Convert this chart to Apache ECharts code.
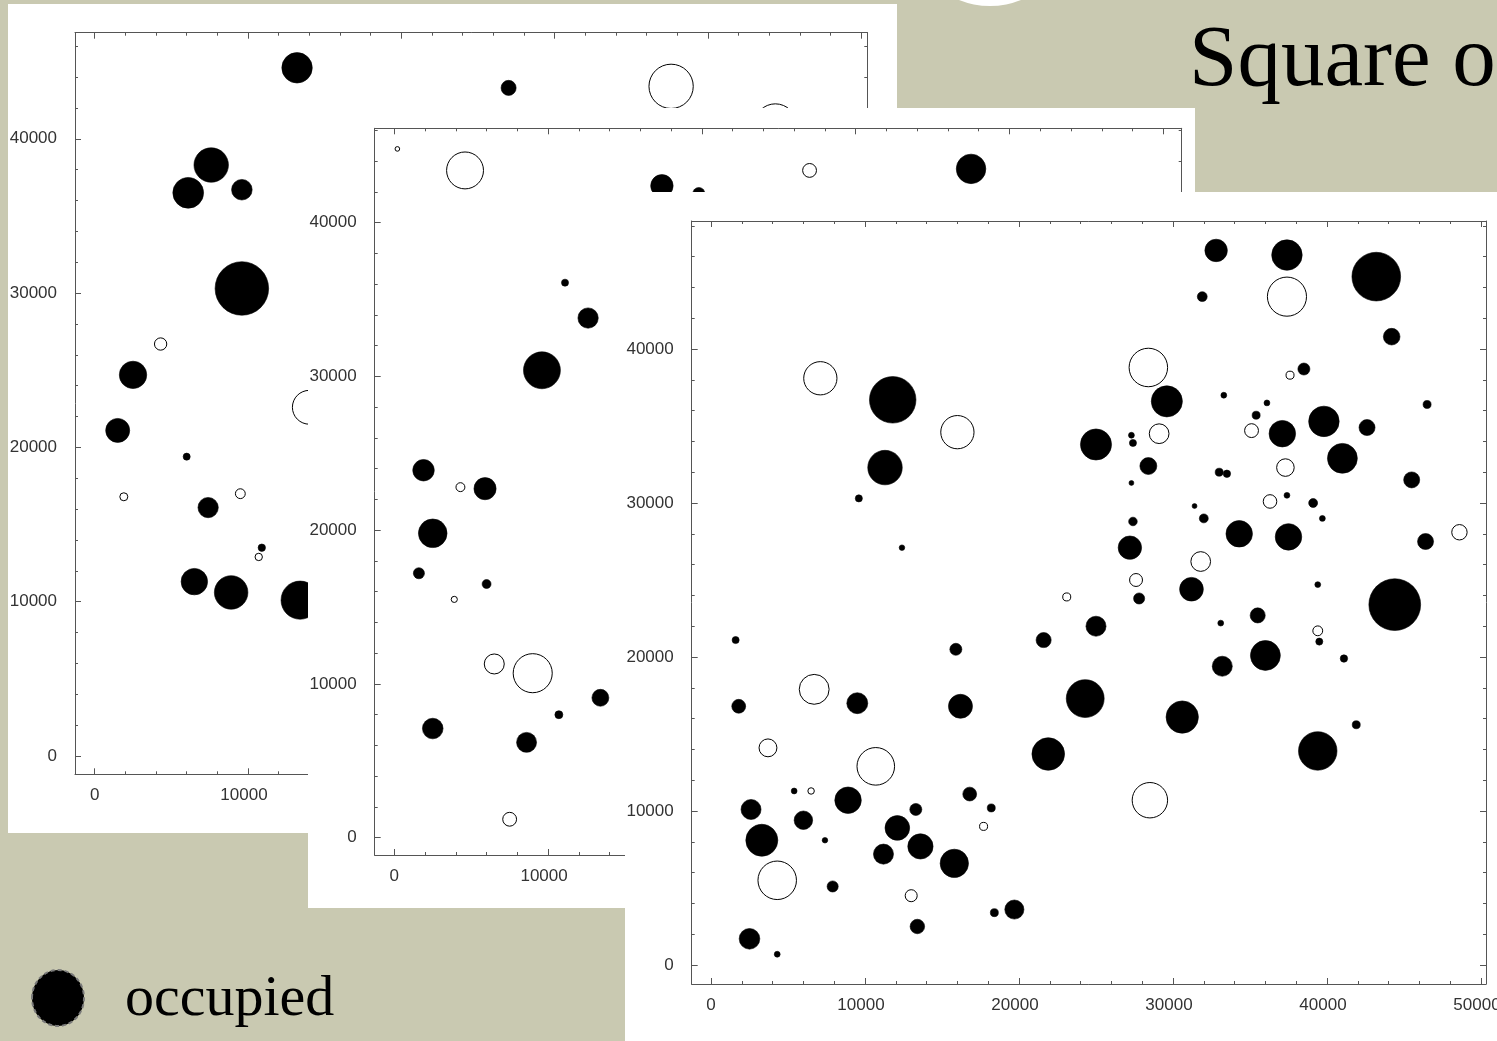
<!DOCTYPE html>
<html>
<head>
<meta charset="utf-8">
<title>Square of patches</title>
<script src="https://cdn.jsdelivr.net/npm/echarts@6/dist/echarts.min.js"></script>
<style>
  html, body { margin: 0; padding: 0; background: #c9c9b1; }
  #chart { width: 1497px; height: 1041px; }
</style>
</head>
<body>
<div id="chart"></div>
<script>
// Habitat patches: [x, y, radius] in map units (metres).
// Three surveys of the same square; occupied patches are filled, empty ones outlined.

const surveyAOccupied = [
  [13200, 44600, 990], [7600, 38300, 1120], [6100, 36500, 1000], [9600, 36700, 670],
  [9600, 30300, 1740], [2500, 24700, 890], [1500, 21100, 780], [6000, 19400, 230],
  [7400, 16100, 660], [10900, 13500, 240], [6500, 11300, 860], [8900, 10600, 1090],
  [13400, 10100, 1240], [27000, 43300, 490]
];
const surveyAEmpty = [
  [4300, 26700, 400], [14000, 22600, 1100], [1900, 16800, 260], [9500, 17000, 320],
  [10700, 12900, 240], [37600, 43400, 1440], [44400, 40900, 1370]
];

const surveyBOccupied = [
  [17400, 42400, 730], [19800, 41900, 390], [11100, 36100, 230], [12600, 33800, 660],
  [9600, 30400, 1200], [1900, 23900, 700], [5900, 22700, 720], [2500, 19800, 930],
  [1600, 17200, 360], [6000, 16500, 290], [13400, 9100, 550], [10700, 8000, 260],
  [2500, 7100, 670], [8600, 6200, 650], [37500, 43500, 960]
];
const surveyBEmpty = [
  [200, 44800, 150], [4600, 43400, 1200], [4300, 22800, 290], [3900, 15500, 200],
  [6500, 11300, 650], [9000, 10700, 1270], [7500, 1200, 450], [27000, 43400, 450]
];

const surveyCOccupied = [
  [11800, 36700, 1510], [11300, 32300, 1120], [9600, 30300, 230], [12400, 27100, 180],
  [25000, 33800, 1010], [25000, 22000, 650], [32800, 46400, 730], [37400, 46100, 990],
  [43200, 44700, 1580], [31900, 43400, 320], [44200, 40800, 540], [38500, 38700, 390],
  [29600, 36600, 1010], [33300, 37000, 190], [36100, 36500, 190], [46500, 36400, 260],
  [35400, 35700, 260], [39800, 35300, 990], [42600, 34900, 520], [37100, 34500, 860],
  [27300, 34400, 190], [27400, 33900, 230], [41000, 32900, 970], [28400, 32400, 550],
  [33000, 32000, 260], [33500, 31900, 240], [45500, 31500, 520], [27300, 31300, 160],
  [37400, 30500, 190], [39100, 30000, 290], [31400, 29800, 160], [32000, 29000, 290],
  [39700, 29000, 190], [27400, 28800, 280], [34300, 28000, 860], [37500, 27800, 860],
  [46400, 27500, 520], [27200, 27100, 760], [31200, 24400, 770], [27800, 23800, 360],
  [39400, 24700, 190], [44400, 23400, 1680], [35500, 22700, 490], [33100, 22200, 190],
  [39500, 21000, 230], [36000, 20100, 970], [33200, 19400, 650], [41100, 19900, 240],
  [24300, 17300, 1230], [30600, 16100, 1050], [41900, 15600, 260], [39400, 13900, 1250],
  [1600, 21100, 230], [15900, 20500, 390], [21600, 21100, 490], [9500, 17000, 680],
  [1800, 16800, 450], [16200, 16800, 780], [21900, 13700, 1060], [5400, 11300, 190],
  [8900, 10700, 860], [16800, 11100, 450], [18200, 10200, 260], [2600, 10100, 650],
  [6000, 9400, 600], [7400, 8100, 180], [13300, 10100, 390], [3300, 8100, 1040],
  [12100, 8900, 800], [13600, 7700, 820], [11200, 7200, 650], [15800, 6600, 920],
  [7900, 5100, 360], [18400, 3400, 260], [19700, 3600, 620], [13400, 2500, 470],
  [2500, 1700, 670], [4300, 700, 190]
];
const surveyCEmpty = [
  [7100, 38100, 1080], [16000, 34600, 1080], [23100, 23900, 260], [37400, 43400, 1270],
  [28400, 38800, 1250], [37600, 38300, 260], [29100, 34500, 640], [35100, 34700, 450],
  [37300, 32300, 570], [36300, 30100, 440], [48600, 28100, 500], [31800, 26200, 640],
  [27600, 25000, 420], [39400, 21700, 320], [28500, 10700, 1150], [6700, 17900, 970],
  [3700, 14100, 580], [10700, 12900, 1220], [6500, 11300, 210], [17700, 9000, 260],
  [4300, 5500, 1250], [13000, 4500, 390]
];

// Axis extents of each plot frame
const surveyAXRange = [-1285, 50398];
const surveyAYRange = [-1186, 46876];
const surveyBXRange = [-1274, 51196];
const surveyBYRange = [-1125, 46140];
const surveyCXRange = [-1253, 50325];
const surveyCYRange = [-1234, 48312];

const titleText = 'Square o';
const legendText = 'occupied';

// Layout: paper sheet rectangles and plot boxes, back to front
const panels = [
  { sheet: [8, 4, 889, 829], box: [75, 32.7, 792.3, 741.6],
    x: surveyAXRange, y: surveyAYRange, occupied: surveyAOccupied, empty: surveyAEmpty },
  { sheet: [308, 108, 887, 800], box: [374.7, 128.3, 807, 726.7],
    x: surveyBXRange, y: surveyBYRange, occupied: surveyBOccupied, empty: surveyBEmpty },
  { sheet: [625, 192, 900, 900], box: [691.7, 221, 794.3, 763],
    x: surveyCXRange, y: surveyCYRange, occupied: surveyCOccupied, empty: surveyCEmpty }
];

const FRAME = '#555';
const labelFont = { fontFamily: 'Liberation Sans', fontSize: 17, color: '#333' };

function frameAxis(gridIndex, position, range, withLabels, z) {
  const horizontal = position === 'bottom' || position === 'top';
  let axisLabel = { show: false };
  if (withLabels && horizontal) {
    axisLabel = Object.assign({
      show: true, margin: 13,
      formatter: v => (v % 10000 !== 0 ? '' : (v === 0 ? '{z|0}' : '{n|' + v + '}')),
      rich: { z: Object.assign({}, labelFont), n: Object.assign({ padding: [0, 8, 0, 0] }, labelFont) }
    }, labelFont);
  } else if (withLabels) {
    axisLabel = Object.assign({
      show: true, margin: 18,
      formatter: v => (v % 10000 === 0 ? String(v) : '')
    }, labelFont);
  }
  return {
    type: 'value', gridIndex: gridIndex, position: position,
    min: range[0], max: range[1], splitNumber: 5, z: z,
    axisLine: { show: true, onZero: false, lineStyle: { color: FRAME, width: 1 } },
    axisTick: { show: true, inside: true, length: 6, lineStyle: { color: FRAME, width: 1 } },
    minorTick: { show: true, splitNumber: 5, length: 3, lineStyle: { color: FRAME, width: 1 } },
    splitLine: { show: false },
    minorSplitLine: { show: false },
    axisLabel: axisLabel,
    axisPointer: { show: false }
  };
}

function patchSeries(points, gridIndex, filled, z) {
  return {
    type: 'custom', xAxisIndex: gridIndex * 2, yAxisIndex: gridIndex * 2,
    z: z, silent: true, animation: false,
    data: points,
    renderItem: function (params, api) {
      const c = api.coord([api.value(0), api.value(1)]);
      const s = api.size([api.value(2), api.value(2)]);
      const r = (s[0] + s[1]) / 2;
      return {
        type: 'circle',
        shape: { cx: c[0], cy: c[1], r: r },
        style: filled
          ? { fill: '#000', stroke: '#000', lineWidth: 0.6 }
          : { fill: 'none', stroke: '#000', lineWidth: 1 }
      };
    }
  };
}

const grid = [], xAxis = [], yAxis = [], series = [];
const graphic = [
  // pale disc peeking from the top edge
  { type: 'circle', z: 0, shape: { cx: 990, cy: -77, r: 83 }, style: { fill: '#ffffff' } },
  { type: 'text', z: 0, x: 1189, y: 62,
    style: { text: titleText, fontFamily: 'Liberation Serif', fontSize: 87, fill: '#000',
             verticalAlign: 'middle', align: 'left' } },
  { type: 'ellipse', z: 0, shape: { cx: 58, cy: 998, rx: 26, ry: 28 },
    style: { fill: '#000', stroke: '#7a7a7a', lineWidth: 2, lineDash: [4, 3] } },
  { type: 'text', z: 0, x: 125, y: 1000,
    style: { text: legendText, fontFamily: 'Liberation Serif', fontSize: 58, fill: '#000',
             verticalAlign: 'middle', align: 'left' } }
];

panels.forEach(function (p, i) {
  const z = 1 + i * 3;
  graphic.push({ type: 'rect', z: z,
    shape: { x: p.sheet[0], y: p.sheet[1], width: p.sheet[2], height: p.sheet[3] },
    style: { fill: '#ffffff' } });
  grid.push({ left: p.box[0], top: p.box[1], width: p.box[2], height: p.box[3],
    containLabel: false, outerBoundsMode: 'none', show: false, z: z + 1 });
  xAxis.push(frameAxis(i, 'bottom', p.x, true, z + 1), frameAxis(i, 'top', p.x, false, z + 1));
  yAxis.push(frameAxis(i, 'left', p.y, true, z + 1), frameAxis(i, 'right', p.y, false, z + 1));
  series.push(patchSeries(p.occupied, i, true, z + 2), patchSeries(p.empty, i, false, z + 2));
});

const chart = echarts.init(document.getElementById('chart'), null, { renderer: 'canvas' });
chart.setOption({
  backgroundColor: '#c9c9b1',
  animation: false,
  grid: grid,
  xAxis: xAxis,
  yAxis: yAxis,
  graphic: graphic,
  series: series
});
</script>
</body>
</html>
